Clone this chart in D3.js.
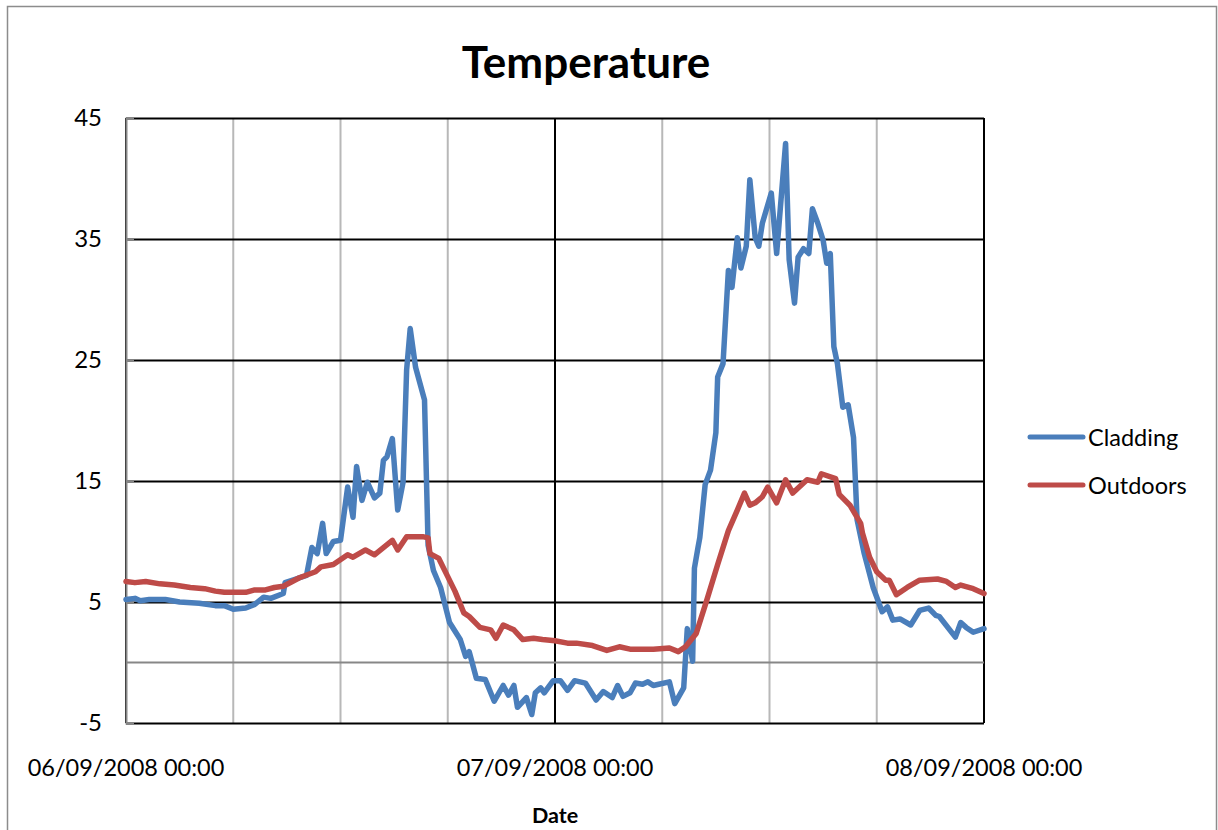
<!DOCTYPE html>
<html>
<head>
<meta charset="utf-8">
<script src="https://cdn.jsdelivr.net/npm/d3@7"></script>
<style>
  body { margin: 0; background: #fff; }
  svg { display: block; font-family: Lato, "Open Sans", sans-serif; }
</style>
</head>
<body>
<div id="chart"></div>
<script>
const WIDTH = 1218
const HEIGHT = 830

// hours after 06/09/2008 00:00, temperature
const cladding = [
  [0.0, 5.2], [0.5, 5.3], [0.8, 5.1], [1.3, 5.2], [2.2, 5.2], [3.0, 5.0], [4.1, 4.9],
  [5.0, 4.7], [5.5, 4.7], [6.0, 4.4], [6.7, 4.5], [7.2, 4.8], [7.7, 5.4], [8.1, 5.3],
  [8.8, 5.7], [8.9, 6.6], [9.5, 6.9], [10.1, 7.2], [10.4, 9.5], [10.7, 9.0], [11.0, 11.5],
  [11.2, 9.0], [11.6, 10.0], [12.0, 10.1], [12.4, 14.5], [12.7, 12.0], [12.9, 16.2],
  [13.2, 13.4], [13.5, 14.9], [13.9, 13.6], [14.2, 14.0], [14.4, 16.7], [14.6, 17.0],
  [14.9, 18.5], [15.2, 12.6], [15.5, 14.9], [15.7, 24.2], [15.9, 27.6], [16.2, 24.4],
  [16.7, 21.7], [16.9, 9.7], [17.2, 7.6], [17.6, 6.2], [18.1, 3.3], [18.7, 1.9], [19.0, 0.5],
  [19.2, 0.9], [19.6, -1.3], [20.1, -1.4], [20.6, -3.2], [21.1, -1.9], [21.4, -2.7],
  [21.7, -1.9], [21.9, -3.7], [22.4, -2.9], [22.7, -4.3], [22.9, -2.5], [23.2, -2.1],
  [23.4, -2.5], [23.9, -1.5], [24.3, -1.5], [24.7, -2.3], [25.1, -1.5], [25.7, -1.7],
  [26.3, -3.1], [26.7, -2.4], [27.2, -2.9], [27.5, -1.9], [27.8, -2.8], [28.2, -2.5],
  [28.5, -1.7], [28.9, -1.8], [29.2, -1.6], [29.5, -1.9], [29.8, -1.8], [30.4, -1.6],
  [30.7, -3.4], [31.2, -2.1], [31.4, 2.8], [31.7, 0.1], [31.8, 7.8], [32.0, 9.5],
  [32.1, 10.3], [32.4, 14.7], [32.7, 15.9], [33.0, 19.0], [33.1, 23.6], [33.4, 24.7],
  [33.7, 32.4], [33.9, 31.0], [34.2, 35.1], [34.4, 32.6], [34.7, 34.4], [34.9, 39.9],
  [35.2, 35.1], [35.4, 34.4], [35.6, 36.3], [36.1, 38.8], [36.4, 33.8], [36.9, 42.9],
  [37.1, 33.3], [37.4, 29.7], [37.6, 33.5], [37.9, 34.2], [38.2, 33.8], [38.4, 37.5],
  [38.7, 36.3], [39.0, 34.9], [39.2, 33.0], [39.4, 33.8], [39.6, 26.1], [39.8, 24.7],
  [40.1, 21.1], [40.4, 21.3], [40.7, 18.6], [40.9, 11.8], [41.3, 9.0], [41.8, 6.2],
  [42.3, 4.2], [42.6, 4.6], [42.9, 3.5], [43.3, 3.6], [43.9, 3.1], [44.4, 4.3], [44.9, 4.5],
  [45.3, 3.9], [45.5, 3.8], [46.4, 2.1], [46.7, 3.3], [47.0, 2.9], [47.4, 2.5], [48.0, 2.8]
]

const outdoors = [
  [0.0, 6.7], [0.5, 6.6], [1.1, 6.7], [1.9, 6.5], [2.7, 6.4], [3.6, 6.2], [4.4, 6.1],
  [5.0, 5.9], [5.5, 5.8], [6.0, 5.8], [6.7, 5.8], [7.2, 6.0], [7.8, 6.0], [8.3, 6.2],
  [8.8, 6.3], [9.7, 7.0], [10.6, 7.5], [10.9, 7.9], [11.6, 8.1], [12.4, 8.9], [12.7, 8.7],
  [13.4, 9.3], [13.9, 8.9], [14.4, 9.5], [14.9, 10.1], [15.2, 9.3], [15.7, 10.4],
  [16.6, 10.4], [16.9, 10.3], [17.0, 9.0], [17.5, 8.6], [18.0, 7.1], [18.4, 5.9],
  [18.9, 4.1], [19.2, 3.8], [19.8, 2.9], [20.4, 2.7], [20.7, 2.0], [21.1, 3.1], [21.7, 2.7],
  [22.2, 1.9], [22.8, 2.0], [23.3, 1.9], [24.0, 1.8], [24.7, 1.6], [25.2, 1.6], [26.1, 1.4],
  [26.9, 1.0], [27.6, 1.3], [28.2, 1.1], [29.5, 1.1], [30.4, 1.2], [30.9, 0.9], [31.3, 1.3],
  [31.9, 2.4], [32.5, 5.2], [33.1, 8.1], [33.7, 10.9], [34.2, 12.6], [34.6, 14.0],
  [34.9, 13.0], [35.2, 13.2], [35.6, 13.7], [35.9, 14.5], [36.4, 13.2], [36.9, 15.1],
  [37.3, 14.0], [38.1, 15.1], [38.7, 14.9], [38.9, 15.6], [39.7, 15.2], [39.9, 13.9],
  [40.5, 13.0], [41.1, 11.5], [41.2, 10.7], [41.6, 8.7], [42.0, 7.5], [42.5, 6.8],
  [42.7, 6.8], [43.1, 5.6], [43.7, 6.2], [44.4, 6.8], [45.4, 6.9], [45.9, 6.7], [46.4, 6.2],
  [46.7, 6.4], [47.4, 6.1], [48.0, 5.7]
]

const yTicks = [-5, 5, 15, 25, 35, 45]
const dateLabels = ["06/09/2008 00:00", "07/09/2008 00:00", "08/09/2008 00:00"]
const seriesNames = ["Cladding", "Outdoors"]
const colors = ["#4a7ebb", "#be4b48"]

const start = new Date(2008, 8, 6, 0, 0)
const toDate = h => new Date(start.getTime() + h * 3600 * 1000)

const x = d3.scaleTime()
    .domain([start, toDate(48)])
    .range([126, 984])
const y = d3.scaleLinear()
    .domain([-5, 45])
    .range([723, 118])

const svg = d3.select("#chart")
    .append("svg")
    .attr("width", WIDTH)
    .attr("height", HEIGHT)

// cadre du graphique
svg.append("rect")
    .attr("x", 7.5).attr("y", 6.5)
    .attr("width", 1209).attr("height", 840)
    .attr("fill", "none")
    .attr("stroke", "#8c8c8c")
    .attr("stroke-width", 1.5)

// grille verticale toutes les 6 heures
const sixHours = d3.range(0, 49, 6).map(toDate)
svg.append("g")
    .selectAll("line")
    .data(sixHours)
    .enter()
    .append("line")
    .attr("x1", d => x(d)).attr("x2", d => x(d))
    .attr("y1", y(45)).attr("y2", y(-5))
    .attr("stroke", (d, i) => i % 4 === 0 ? "#000" : "#b8b8b8")
    .attr("stroke-width", 2)

// grille horizontale
svg.append("g")
    .attr("transform", `translate(${x.range()[0]},0)`)
    .call(d3.axisLeft(y).tickValues(yTicks).tickSize(-(x.range()[1] - x.range()[0])).tickFormat(""))
    .call(g => g.select(".domain").remove())
    .selectAll("line")
    .attr("stroke", "#000")
    .attr("stroke-width", 2)

// bord droit
svg.append("line")
    .attr("x1", x.range()[1]).attr("x2", x.range()[1])
    .attr("y1", y(45)).attr("y2", y(-5))
    .attr("stroke", "#000").attr("stroke-width", 2)

// axe horizontal à 0
svg.append("line")
    .attr("x1", x.range()[0]).attr("x2", x.range()[1])
    .attr("y1", y(0)).attr("y2", y(0))
    .attr("stroke", "#878787").attr("stroke-width", 2)

// axe vertical
const yAxis = svg.append("g")
    .attr("transform", `translate(${x.range()[0]},0)`)
    .call(d3.axisLeft(y).tickValues(yTicks).tickSize(-8).tickPadding(24).tickFormat(d => String(d)))
yAxis.select(".domain").attr("stroke", "#878787").attr("stroke-width", 2)
yAxis.selectAll(".tick line").attr("stroke", "#878787").attr("stroke-width", 2)
yAxis.selectAll(".tick text")
    .attr("font-size", 24)
    .attr("font-family", "Lato, sans-serif")
    .attr("fill", "#000")

// étiquettes de dates
svg.append("g")
    .selectAll("text")
    .data(dateLabels)
    .enter()
    .append("text")
    .attr("x", (d, i) => x(toDate(i * 24)))
    .attr("y", 776)
    .attr("text-anchor", "middle")
    .attr("font-size", 23.5)
    .text(d => d)

// lignes
const line = d3.line()
    .x(d => x(toDate(d[0])))
    .y(d => y(d[1]))

svg.append("g")
    .selectAll("path")
    .data([cladding, outdoors])
    .enter()
    .append("path")
    .attr("d", line)
    .attr("fill", "none")
    .attr("stroke", (d, i) => colors[i])
    .attr("stroke-width", 5.5)
    .attr("stroke-linejoin", "round")
    .attr("stroke-linecap", "round")

// titre
svg.append("text")
    .attr("x", 586)
    .attr("y", 78)
    .attr("text-anchor", "middle")
    .attr("font-size", 44)
    .attr("font-weight", "bold")
    .text("Temperature")

svg.append("text")
    .attr("x", 555)
    .attr("y", 823)
    .attr("text-anchor", "middle")
    .attr("font-size", 21.5)
    .attr("font-weight", "bold")
    .text("Date")

// légende
const legend = svg.append("g")
    .selectAll("g")
    .data(seriesNames)
    .enter()
    .append("g")
    .attr("transform", (d, i) => `translate(1030,${437 + i * 48})`)

legend.append("line")
    .attr("x1", 0).attr("x2", 53)
    .attr("stroke", (d, i) => colors[i])
    .attr("stroke-width", 5)
    .attr("stroke-linecap", "round")

legend.append("text")
    .attr("x", 58)
    .attr("y", 8.5)
    .attr("font-size", 23.5)
    .text(d => d)
</script>
</body>
</html>
